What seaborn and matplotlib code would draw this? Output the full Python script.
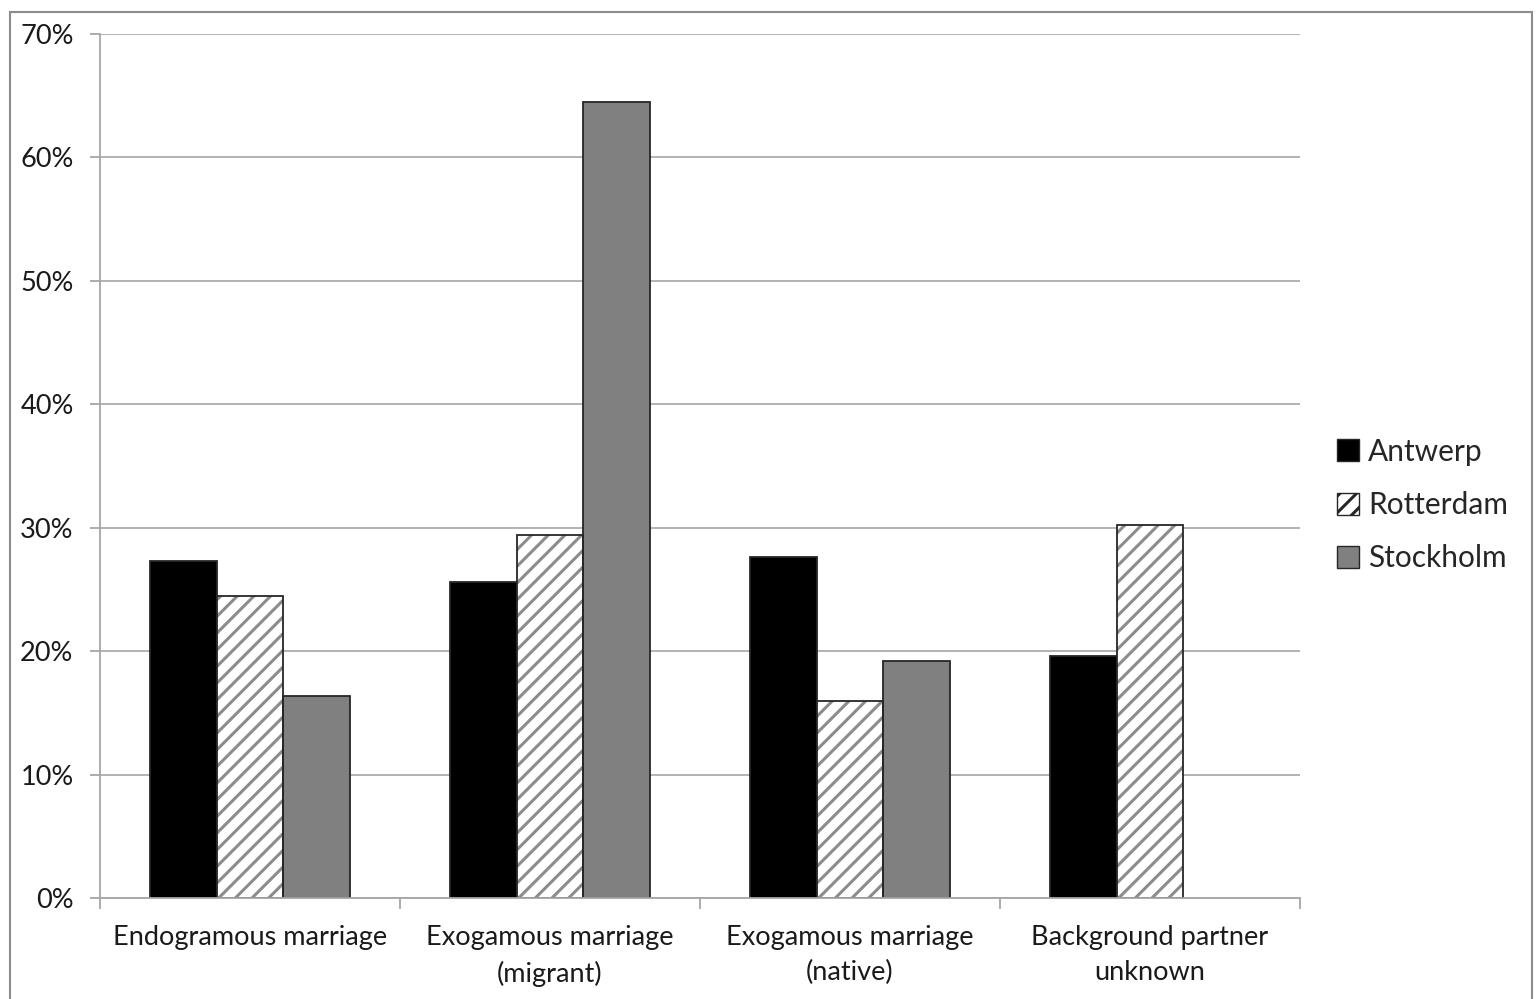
import matplotlib
matplotlib.use("Agg")
import matplotlib.pyplot as plt
import matplotlib.patches as mpatches
from matplotlib.ticker import FixedLocator, PercentFormatter
import numpy as np
import pandas as pd
import seaborn as sns

# Share of marriages by partner background, per city
categories = ["Endogramous marriage", "Exogamous marriage\n(migrant)",
              "Exogamous marriage\n(native)", "Background partner\nunknown"]
cities = ["Antwerp", "Rotterdam", "Stockholm"]
antwerp = [27.3, 25.6, 27.6, 19.6]
rotterdam = [24.5, 29.4, 16.0, 30.2]
stockholm = [16.4, 64.5, 19.2, np.nan]
y_ticks = [0, 10, 20, 30, 40, 50, 60, 70]

df = pd.DataFrame({
    "category": categories * 3,
    "city": [c for c in cities for _ in categories],
    "share": antwerp + rotterdam + stockholm,
})

sns.set_theme(style="white")
plt.rcParams["font.family"] = ["Lato", "DejaVu Sans"]
plt.rcParams["hatch.linewidth"] = 2.2

fig = plt.figure(figsize=(15.36, 9.99), dpi=100)
ax = fig.add_axes([100 / 1536, 1 - 898 / 999, 1200 / 1536, 864 / 999])

fills = {"Antwerp": "#000000", "Rotterdam": "#ffffff", "Stockholm": "#808080"}
sns.barplot(data=df, x="category", y="share", hue="city", order=categories,
            hue_order=cities, palette=fills, width=0.667, gap=0,
            edgecolor="#262626", linewidth=1.3, saturation=1, ax=ax,
            legend=False)

# hatch the Rotterdam bars with grey diagonal lines
n = len(categories)
bars = [p for p in ax.patches if isinstance(p, mpatches.Rectangle)]
for p in bars[n:2 * n]:
    outline = mpatches.Rectangle(p.get_xy(), p.get_width(), p.get_height(),
                                 fill=False, edgecolor="#262626", linewidth=1.3,
                                 zorder=p.get_zorder() + 0.1)
    p.set_hatch("//")
    p.set_edgecolor("#8c8c8c")
    p.set_linewidth(0)
    ax.add_patch(outline)

ax.set_ylim(0, 70)
ax.set_xlim(-0.5, n - 0.5)
ax.yaxis.set_major_locator(FixedLocator(y_ticks))
ax.yaxis.set_major_formatter(PercentFormatter(decimals=0))
ax.grid(axis="y", color="#a6a6a6", linewidth=1.2)
ax.set_axisbelow(True)
ax.set_xlabel("")
ax.set_ylabel("")

for side in ("top", "right"):
    ax.spines[side].set_visible(False)
for side in ("left", "bottom"):
    ax.spines[side].set_color("#a6a6a6")
    ax.spines[side].set_linewidth(1.3)

ax.xaxis.set_minor_locator(FixedLocator(np.arange(-0.5, n, 1.0)))
ax.tick_params(axis="x", which="major", length=0, pad=19.5, labelsize=19.5,
               labelcolor="#1a1a1a")
ax.tick_params(axis="x", which="minor", length=8, width=1.3, color="#a6a6a6",
               direction="out", bottom=True)
ax.tick_params(axis="y", length=7, width=1.3, color="#a6a6a6", pad=12,
               labelsize=19.5, labelcolor="#1a1a1a", left=True)
for lbl in ax.get_xticklabels():
    lbl.set_linespacing(1.5)

handles = [
    mpatches.Patch(facecolor="#000000", edgecolor="#262626", label="Antwerp"),
    mpatches.Patch(facecolor="#ffffff", edgecolor="#262626", hatch="//",
                   label="Rotterdam"),
    mpatches.Patch(facecolor="#808080", edgecolor="#262626", label="Stockholm"),
]
fig.legend(handles=handles, loc="center left",
           bbox_to_anchor=(1337 / 1536, 1 - 505 / 999), frameon=False,
           fontsize=21.5, handlelength=0.75, handleheight=0.75,
           handletextpad=0.3, labelspacing=0.85, borderpad=0,
           borderaxespad=0)

# outer chart frame
fig.patches.append(mpatches.Rectangle((10 / 1536, -0.01), 1522 / 1536,
                                      1.004 - 6 / 999, transform=fig.transFigure,
                                      fill=False, edgecolor="#8c8c8c",
                                      linewidth=1.5))

fig.savefig("out.png", dpi=100, facecolor="white")
